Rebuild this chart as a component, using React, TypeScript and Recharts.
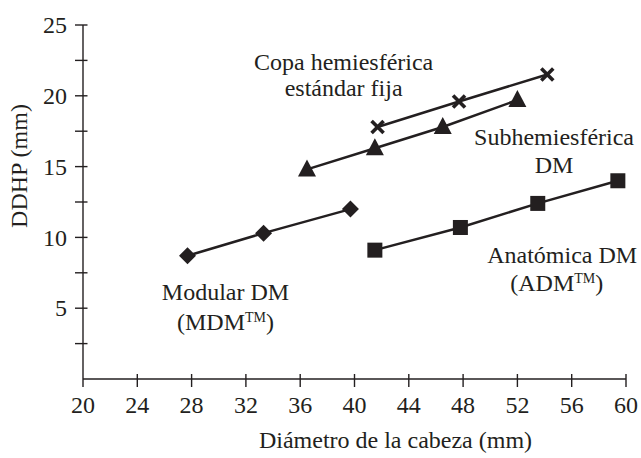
import React from 'react';
import { ScatterChart, Scatter, XAxis, YAxis, Label } from 'recharts';

const FONT = '"Liberation Serif", "Times New Roman", serif';
const INK = '#231f20';
const FS = 24;

// Diámetro de la cabeza (mm) vs DDHP (mm)
const copaFija = [
  { x: 41.7, y: 17.8 },
  { x: 47.7, y: 19.6 },
  { x: 54.2, y: 21.5 },
];
const subhemiesferica = [
  { x: 36.5, y: 14.8 },
  { x: 41.5, y: 16.3 },
  { x: 46.5, y: 17.8 },
  { x: 52.0, y: 19.7 },
];
const modular = [
  { x: 27.7, y: 8.7 },
  { x: 33.3, y: 10.3 },
  { x: 39.7, y: 12.0 },
];
const anatomica = [
  { x: 41.5, y: 9.1 },
  { x: 47.8, y: 10.7 },
  { x: 53.5, y: 12.4 },
  { x: 59.4, y: 14.0 },
];

// text labels placed in data units
const notes = [
  { x: 39.2, y: 22.4, text: 'Copa hemiesférica' },
  { x: 39.2, y: 20.55, text: 'estándar fija' },
  { x: 54.7, y: 17.1, text: 'Subhemiesférica' },
  { x: 54.7, y: 15.1, text: 'DM' },
  { x: 30.5, y: 6.14, text: 'Modular DM' },
  { x: 30.5, y: 4.03, text: '(MDM™)' },
  { x: 55.3, y: 8.76, text: 'Anatómica DM' },
  { x: 54.9, y: 6.78, text: '(ADM™)' },
];

const xTicks = [20, 24, 28, 32, 36, 40, 44, 48, 52, 56, 60];
const yTicks = [2.5, 5, 7.5, 10, 12.5, 15, 17.5, 20, 22.5, 25];

// inner half of the ticks (recharts draws the outer half)
const xTickMarks = xTicks.filter((v) => v > 20).map((v) => ({ x: v, y: 0, tick: 'v' }));
const yTickMarks = yTicks.map((v) => ({ x: 20, y: v, tick: 'h' }));

const TICK_SIZE = 8;

const YTick = (props: any) => {
  const { x, y, payload } = props;
  const v = payload.value;
  if (v % 5 !== 0) return <g />;
  return (
    <text x={x - 8} y={y} dy="0.34em" textAnchor="end" fill={INK} fontSize={FS} fontFamily={FONT}>
      {v}
    </text>
  );
};

const XTick = (props: any) => {
  const { x, y, payload } = props;
  return (
    <text x={x} y={y + 26} textAnchor="middle" fill={INK} fontSize={FS} fontFamily={FONT}>
      {payload.value}
    </text>
  );
};

const TickMark = ({ cx, cy, payload }: any) => (
  <g stroke={INK} strokeWidth={1.4}>
    {payload.tick === 'h' ? (
      <line x1={cx} y1={cy} x2={cx + 4.5} y2={cy} />
    ) : (
      <line x1={cx} y1={cy} x2={cx} y2={cy - 5} />
    )}
  </g>
);

const Square = ({ cx, cy }: any) => <rect x={cx - 7.5} y={cy - 7.5} width={15} height={15} fill={INK} />;
const Triangle = ({ cx, cy }: any) => (
  <polygon points={`${cx},${cy - 10} ${cx + 9},${cy + 7} ${cx - 9},${cy + 7}`} fill={INK} />
);
const Diamond = ({ cx, cy }: any) => (
  <polygon points={`${cx},${cy - 8.5} ${cx + 8.5},${cy} ${cx},${cy + 8.5} ${cx - 8.5},${cy}`} fill={INK} />
);
const Cross = ({ cx, cy }: any) => (
  <g stroke={INK} strokeWidth={3.6}>
    <line x1={cx - 6} y1={cy - 6} x2={cx + 6} y2={cy + 6} />
    <line x1={cx - 6} y1={cy + 6} x2={cx + 6} y2={cy - 6} />
  </g>
);

const NoteText = ({ cx, cy, payload }: any) => {
  const parts = String(payload.text).split('™');
  return (
    <text x={cx} y={cy} dy="0.34em" textAnchor="middle" fill={INK} fontSize={FS} fontFamily={FONT}>
      {parts.length > 1 ? (
        <>
          <tspan>{parts[0]}</tspan>
          <tspan fontSize={14} dy={-8}>TM</tspan>
          <tspan dy={8}>{parts[1]}</tspan>
        </>
      ) : (
        payload.text
      )}
    </text>
  );
};

const lineStyle = { stroke: INK, strokeWidth: 2.5 };
const axisStroke = { stroke: INK, strokeWidth: 1.4 };

export default function App() {
  return (
    <div style={{ position: 'absolute', left: 0, top: 0, background: '#fff' }}>
      <ScatterChart width={641} height={458} margin={{ top: 25, right: 15, bottom: 49, left: 30 }}>
        <XAxis
          type="number"
          dataKey="x"
          domain={[20, 60]}
          ticks={xTicks}
          interval={0}
          height={30}
          tickSize={TICK_SIZE}
          tickMargin={0}
          tickLine={axisStroke}
          axisLine={axisStroke}
          tick={<XTick />}
        >
          <Label
            content={({ viewBox }: any) => (
              <text
                x={viewBox.x + viewBox.width / 2 + 41}
                y={viewBox.y + 69}
                textAnchor="middle"
                fill={INK}
                fontSize={FS}
                fontFamily={FONT}
              >
                Diámetro de la cabeza (mm)
              </text>
            )}
          />
        </XAxis>
        <YAxis
          type="number"
          dataKey="y"
          domain={[0, 25]}
          ticks={yTicks}
          interval={0}
          width={53}
          tickSize={TICK_SIZE}
          tickMargin={0}
          tickLine={axisStroke}
          axisLine={axisStroke}
          tick={<YTick />}
        >
          <Label
            content={({ viewBox }: any) => {
              const cx = 19;
              const cy = viewBox.y + viewBox.height / 2 - 36;
              return (
                <text
                  x={cx}
                  y={cy}
                  dy="0.34em"
                  textAnchor="middle"
                  transform={`rotate(-90, ${cx}, ${cy})`}
                  fill={INK}
                  fontSize={FS}
                  fontFamily={FONT}
                >
                  DDHP (mm)
                </text>
              );
            }}
          />
        </YAxis>
        <Scatter data={modular} line={lineStyle} shape={<Diamond />} isAnimationActive={false} />
        <Scatter data={subhemiesferica} line={lineStyle} shape={<Triangle />} isAnimationActive={false} />
        <Scatter data={copaFija} line={lineStyle} shape={<Cross />} isAnimationActive={false} />
        <Scatter data={anatomica} line={lineStyle} shape={<Square />} isAnimationActive={false} />
        <Scatter data={notes} shape={<NoteText />} isAnimationActive={false} />
        <Scatter data={[...xTickMarks, ...yTickMarks]} shape={<TickMark />} isAnimationActive={false} />
      </ScatterChart>
    </div>
  );
}
